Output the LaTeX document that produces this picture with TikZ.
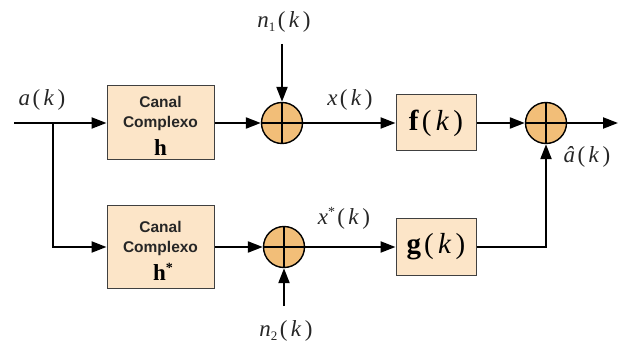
\documentclass[tikz,border=0pt]{standalone}
\usepackage{fontspec}
\setmainfont{Liberation Serif}
\setsansfont{Liberation Sans}
\usetikzlibrary{arrows.meta,positioning}
\definecolor{boxfill}{HTML}{FCE5C8}
\definecolor{sumfill}{HTML}{F2BE78}
\newcommand{\pk}{\hspace{0.1em}(\hspace{0.15em}\textit{k}\hspace{0.15em})}
\newcommand{\lowsub}[1]{\raisebox{-0.35ex}{\fontsize{13}{13}\selectfont #1}}
\newcommand{\upstar}[1]{\raisebox{0.75ex}{\fontsize{14}{14}\selectfont #1}}
\begin{document}
\begin{tikzpicture}[x=1pt,y=-1pt,
  line width=2.2pt,
  arr/.style={-{Triangle[length=15pt,width=11pt]}},
  blk/.style={draw=black!75,line width=1pt,fill=boxfill,inner sep=0pt},
  sumnode/.style={draw=black,line width=1.4pt,fill=sumfill,circle,minimum size=41pt,inner sep=0pt,
    path picture={\draw[line width=1.4pt] (path picture bounding box.north) -- (path picture bounding box.south)
      (path picture bounding box.west) -- (path picture bounding box.east);}},
  lbl/.style={font=\fontsize{23}{26}\selectfont,inner sep=0pt,text=black!85},
  big/.style={font=\fontsize{29}{31}\selectfont},
  bh/.style={font=\bfseries\fontsize{23}{25}\selectfont,inner sep=0pt},
  chtext/.style={font=\sffamily\bfseries\fontsize{15.5}{18}\selectfont,inner sep=0pt,text=black!85}
]
\useasboundingbox (0,0) rectangle (626,358);
% blocks
\node[blk,minimum width=107pt,minimum height=74pt] (h1) at (160.5,123) {};
\node[blk,minimum width=107pt,minimum height=83pt] (h2) at (160.5,247) {};
\node[chtext] (c1a) at (160.5,102) {Canal};
\node[chtext] (c1b) at (160.5,123) {Complexo};
\node[bh] (c1c) at (160.5,148) {h};
\node[chtext] (c2a) at (160.5,227) {Canal};
\node[chtext] (c2b) at (160.5,248) {Complexo};
\node[bh] (c2c) at (163,272) {h\upstar{*}};
\node[blk,big,minimum width=80pt,minimum height=56pt] (f) at (436,123) {\textbf{f}\pk};
\node[blk,big,minimum width=80pt,minimum height=57pt] (g) at (436,247) {\textbf{g}\pk};
% sums
\node[sumnode] (s1) at (282,123) {};
\node[sumnode] (s2) at (284,247) {};
\node[sumnode] (s3) at (546,123) {};
% coordinates
\coordinate (in) at (14,123);
\coordinate (br) at (53,123);
\coordinate (out) at (618,123);
\coordinate (n1s) at (282,44);
\coordinate (n2s) at (284,306);
% labels
\node[lbl] (la) at (42,100) {\textit{a}\pk};
\node[lbl] (ln1) at (284,22) {\textit{n}\lowsub{1}\pk};
\node[lbl] (ln2) at (286,331) {\textit{n}\lowsub{2}\pk};
\node[lbl] (lx) at (350,100) {\textit{x}\pk};
\node[lbl] (lxs) at (344,218) {\textit{x}\upstar{*}\pk};
\node[lbl] (lah) at (587,157) {\textit{â}\pk};
% connectors
\draw[arr] (in) -- (h1.west);
\draw[arr] (br) |- (h2.west);
\draw[arr] (h1.east) -- (s1.west);
\draw[arr] (h2.east) -- (s2.west);
\draw[arr] (n1s) -- (s1.north);
\draw[arr] (n2s) -- (s2.south);
\draw[arr] (s1.east) -- (f.west);
\draw[arr] (s2.east) -- (g.west);
\draw[arr] (f.east) -- (s3.west);
\draw[arr] (g.east) -| (s3.south);
\draw[arr] (s3.east) -- (out);
\end{tikzpicture}
\end{document}
